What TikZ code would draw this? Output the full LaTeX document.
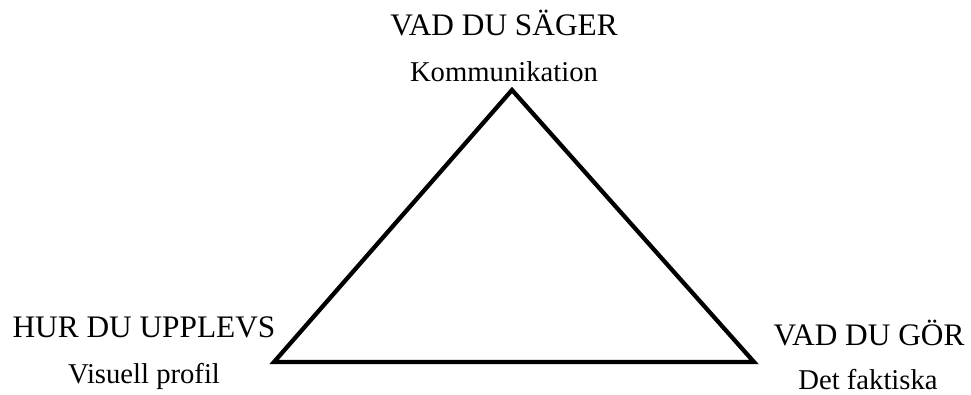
\documentclass[tikz,border=0pt]{standalone}
\usepackage{fontspec}
\setmainfont{Liberation Serif}
\tikzset{
  tricorner/.style={inner sep=0pt},
  triedge/.style={line width=3.2pt, line join=miter},
  headlabel/.style={anchor=base, inner sep=0pt, font=\fontsize{23.5}{28}\selectfont},
  sublabel/.style={anchor=base, inner sep=0pt, font=\fontsize{21.5}{26}\selectfont}
}
\begin{document}
\begin{tikzpicture}[x=0.75pt, y=-0.75pt]
\useasboundingbox (0,0) rectangle (971,394);
\coordinate (top) at (512,90);
\coordinate (left) at (274,362);
\coordinate (right) at (754,362);
\draw[triedge] (top) -- (right) -- (left) -- cycle;
\node[headlabel] (sayhead) at (504,35) {VAD DU SÄGER};
\node[sublabel] (saysub) at (504,81) {Kommunikation};
\node[headlabel] (feelhead) at (144,337) {HUR DU UPPLEVS};
\node[sublabel] (feelsub) at (144,383) {Visuell profil};
\node[headlabel] (dohead) at (869,345) {VAD DU GÖR};
\node[sublabel] (dosub) at (868,389) {Det faktiska};
\end{tikzpicture}
\end{document}
